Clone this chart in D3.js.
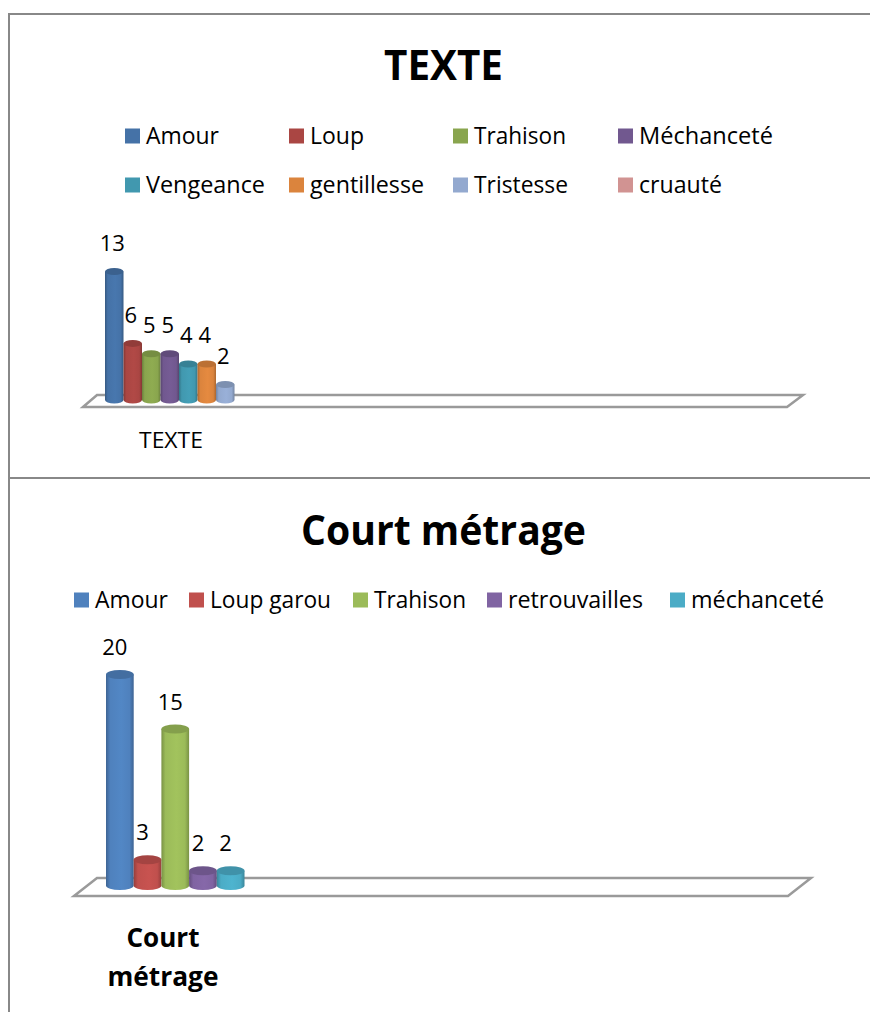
<!DOCTYPE html>
<html>
<head>
<meta charset="utf-8">
<script src="https://cdn.jsdelivr.net/npm/d3@7"></script>
<style>
  html, body { margin: 0; padding: 0; background: #fff; overflow: hidden; }
  svg { display: block; }
  text { font-family: "Open Sans", "Noto Sans", sans-serif; fill: #000; }
</style>
</head>
<body>
<div id="viz"></div>
<script>
// chart data
var texteSeries = ["Amour", "Loup", "Trahison", "Méchanceté", "Vengeance", "gentillesse", "Tristesse", "cruauté"];
var texteValues = [13, 6, 5, 5, 4, 4, 2, null];
var texteColors = ["#4572A7", "#AA4643", "#89A54E", "#71588F", "#4198AF", "#DB843D", "#93A9CF", "#D19392"];

var courtSeries = ["Amour", "Loup garou", "Trahison", "retrouvailles", "méchanceté"];
var courtValues = [20, 3, 15, 2, 2];
var courtColors = ["#4F81BD", "#C0504D", "#9BBB59", "#8064A2", "#4BACC6"];

var width = 870, height = 1012;

var svg = d3.select("#viz").append("svg")
    .attr("width", width)
    .attr("height", height);

var defs = svg.append("defs");

// squeeze a text to the width it has in the picture (the original font is narrower)
function fitText(sel, w) {
    sel.attr("textLength", w).attr("lengthAdjust", "spacingAndGlyphs");
}

// cylinder shading, dark on the edges and lighter a bit left of the middle
function addGradient(id, color) {
    var c = d3.color(color);
    var grad = defs.append("linearGradient").attr("id", id);
    grad.append("stop").attr("offset", "0%").attr("stop-color", c.darker(0.7));
    grad.append("stop").attr("offset", "15%").attr("stop-color", c);
    grad.append("stop").attr("offset", "55%").attr("stop-color", c.brighter(0.12));
    grad.append("stop").attr("offset", "85%").attr("stop-color", c);
    grad.append("stop").attr("offset", "100%").attr("stop-color", c.darker(0.7));
}

function drawChart(o) {
    var g = svg.append("g");

    // title
    var title = g.append("text")
        .attr("x", o.titleX)
        .attr("y", o.titleY)
        .attr("text-anchor", "middle")
        .attr("font-size", o.titleSize)
        .attr("font-weight", "bold")
        .text(o.title);
    fitText(title, o.titleW);

    // legend
    var legend = g.selectAll(".legend")
        .data(o.series)
        .enter().append("g")
        .attr("class", "legend")
        .attr("transform", function(d, i) { return "translate(" + o.legendX[i] + "," + o.legendY[i] + ")"; });
    legend.append("rect")
        .attr("x", 0)
        .attr("y", -7.5)
        .attr("width", 15)
        .attr("height", 15)
        .attr("fill", function(d, i) { return o.legendColors[i]; });
    legend.append("text")
        .attr("x", 21)
        .attr("y", 8)
        .attr("font-size", 23)
        .text(function(d) { return d; })
        .each(function(d, i) { fitText(d3.select(this), o.legendW[i]); });

    // floor of the 3d plot
    g.append("path")
        .attr("d", d3.line()(o.floor) + "Z")
        .attr("fill", "#fff")
        .attr("stroke", "#9a9a9a")
        .attr("stroke-width", 2.5);

    // scales
    var x = d3.scaleBand()
        .domain(o.series)
        .range([o.barLeft, o.barLeft + o.step * o.series.length])
        .paddingInner(0)
        .paddingOuter(0);
    var y = d3.scaleLinear()
        .domain([0, o.maxValue])
        .range([o.baseY, o.topY]);

    var rows = o.series
        .map(function(s, i) { return {name: s, value: o.values[i], color: o.colors[i], i: i}; })
        .filter(function(d) { return d.value !== null; });

    rows.forEach(function(d) { addGradient(o.id + "-grad-" + d.i, d.color); });

    var rx = x.bandwidth() / 2;
    var bars = g.selectAll(".bar")
        .data(rows)
        .enter().append("g")
        .attr("class", "bar");

    // body of the cylinder, all of them stand on the same line
    bars.append("path")
        .attr("d", function(d) {
            var x0 = x(d.name), x1 = x0 + x.bandwidth();
            return "M" + x0 + "," + y(d.value) +
                "L" + x0 + "," + o.footY +
                "A" + rx + "," + o.ry + " 0 0 0 " + x1 + "," + o.footY +
                "L" + x1 + "," + y(d.value) + "Z";
        })
        .attr("fill", function(d) { return "url(#" + o.id + "-grad-" + d.i + ")"; });

    // top of the cylinder
    bars.append("ellipse")
        .attr("cx", function(d) { return x(d.name) + rx; })
        .attr("cy", function(d) { return y(d.value); })
        .attr("rx", rx)
        .attr("ry", o.ry)
        .attr("fill", function(d) { return d3.color(d.color).darker(0.45); });

    // value labels
    g.selectAll(".val")
        .data(rows)
        .enter().append("text")
        .attr("class", "val")
        .attr("x", function(d) { return x(d.name) + rx + o.labelDx; })
        .attr("y", function(d) { return y(d.value) - o.labelGap; })
        .attr("text-anchor", "middle")
        .attr("font-size", 22)
        .text(function(d) { return d.value; });

    // category label under the bars
    o.category.forEach(function(line, i) {
        var t = g.append("text")
            .attr("x", o.catX)
            .attr("y", o.catY + i * o.catLine)
            .attr("text-anchor", "middle")
            .attr("font-size", o.catSize)
            .attr("font-weight", o.catWeight)
            .text(line);
        fitText(t, o.catW[i]);
    });
}

// table frame
var frame = svg.append("g")
    .attr("stroke", "#888")
    .attr("stroke-width", 2);
frame.append("line").attr("x1", 9).attr("y1", 14).attr("x2", 9).attr("y2", height);
frame.append("line").attr("x1", 8).attr("y1", 14).attr("x2", width).attr("y2", 14);
frame.append("line").attr("x1", 8).attr("y1", 478).attr("x2", width).attr("y2", 478);

drawChart({
    id: "texte",
    title: "TEXTE", titleX: 443.5, titleY: 80, titleSize: 42, titleW: 119,
    series: texteSeries, values: texteValues, colors: texteColors, legendColors: texteColors,
    legendX: [125, 289, 453, 618, 125, 289, 453, 618],
    legendY: [136, 136, 136, 136, 185, 185, 185, 185],
    legendW: [73, 54, 92, 134, 119, 114, 94, 83],
    floor: [[83, 407], [97, 395], [803, 395], [787, 407]],
    barLeft: 105, step: 18.5, baseY: 405, topY: 271.5, footY: 400, maxValue: 13, ry: 3.5,
    labelDx: -2, labelGap: 20.5,
    category: ["TEXTE"], catX: 171, catY: 448, catLine: 0, catSize: 22, catWeight: "normal", catW: [64]
});

drawChart({
    id: "court",
    title: "Court métrage", titleX: 443.5, titleY: 545, titleSize: 42, titleW: 285,
    series: courtSeries, values: courtValues, colors: courtColors, legendColors: courtColors,
    legendX: [74, 189, 353, 487, 670],
    legendY: [600, 600, 600, 600, 600],
    legendW: [73, 121, 92, 135, 133],
    floor: [[74, 896], [97, 878], [811, 878], [788, 896]],
    barLeft: 106, step: 27.7, baseY: 892.5, topY: 674.5, footY: 885.5, maxValue: 20, ry: 4.5,
    labelDx: -5, labelGap: 19.5,
    category: ["Court", "métrage"], catX: 163, catY: 947, catLine: 39, catSize: 27, catWeight: "bold", catW: [73, 111]
});
</script>
</body>
</html>
